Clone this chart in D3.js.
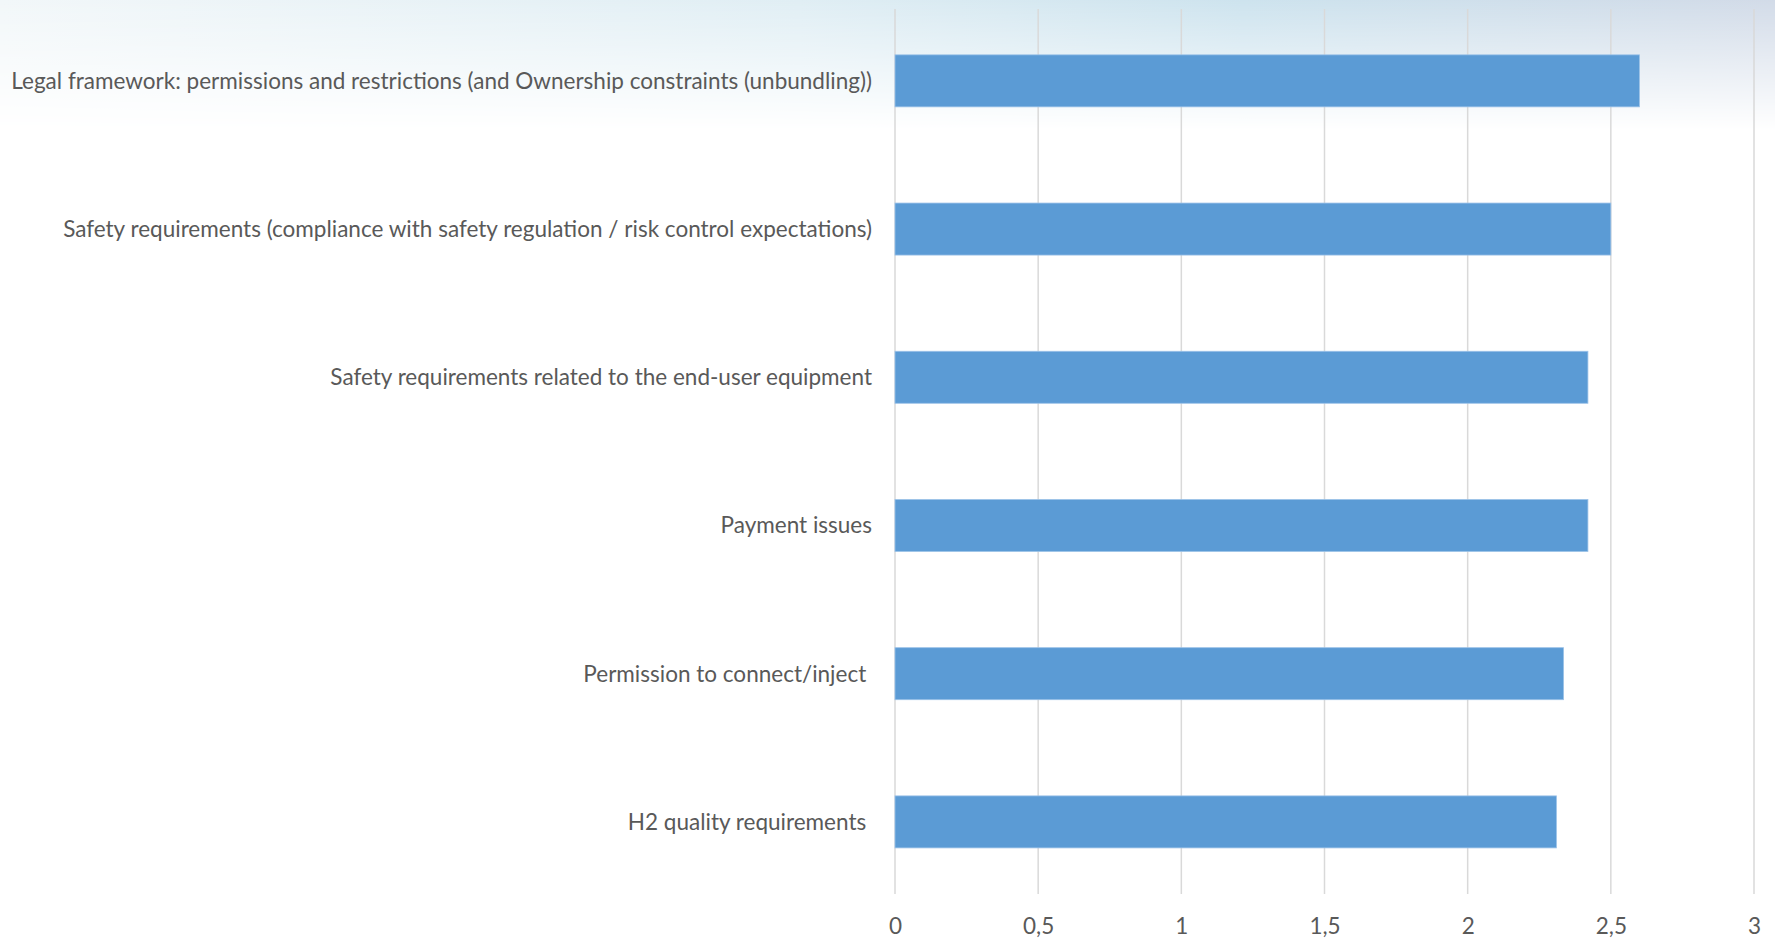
<!DOCTYPE html>
<html>
<head>
<meta charset="utf-8">
<script src="https://cdn.jsdelivr.net/npm/d3@7"></script>
<style>
  html, body { margin: 0; padding: 0; background: #ffffff; }
  svg { display: block; }
  text { font-family: "Lato", "Open Sans", sans-serif; fill: #595959; white-space: pre; }
</style>
</head>
<body>
<svg id="chart" width="1775" height="940"></svg>
<script>
const categories = [
  "Legal framework: permissions and restrictions (and Ownership constraints (unbundling))",
  "Safety requirements (compliance with safety regulation / risk control expectations)",
  "Safety requirements related to the end-user equipment",
  "Payment issues",
  "Permission to connect/inject ",
  "H2 quality requirements "
];
const values = [2.6, 2.5, 2.42, 2.42, 2.335, 2.31];
const tickValues = [0, 0.5, 1, 1.5, 2, 2.5, 3];
const tickLabels = ["0", "0,5", "1", "1,5", "2", "2,5", "3"];

const W = 1775, H = 940;
const svg = d3.select("#chart");

// background gradient (top band)
const defs = svg.append("defs");
const hg = defs.append("linearGradient").attr("id", "hg").attr("x1", 0).attr("x2", 1).attr("y1", 0).attr("y2", 0);
hg.append("stop").attr("offset", "0%").attr("stop-color", "#f2f7f9");
hg.append("stop").attr("offset", "45%").attr("stop-color", "#e0eef4");
hg.append("stop").attr("offset", "70%").attr("stop-color", "#cde3ee");
hg.append("stop").attr("offset", "100%").attr("stop-color", "#d2dbe8");
const vg = defs.append("linearGradient").attr("id", "vg").attr("x1", 0).attr("x2", 0).attr("y1", 0).attr("y2", 1);
vg.append("stop").attr("offset", "0%").attr("stop-color", "#fff").attr("stop-opacity", 1);
vg.append("stop").attr("offset", "40%").attr("stop-color", "#fff").attr("stop-opacity", 0.6);
vg.append("stop").attr("offset", "100%").attr("stop-color", "#fff").attr("stop-opacity", 0);
const mask = defs.append("mask").attr("id", "m");
mask.append("rect").attr("x", 0).attr("y", 0).attr("width", W).attr("height", 130).attr("fill", "url(#vg)");
svg.append("rect").attr("x", 0).attr("y", 0).attr("width", W).attr("height", 130)
  .attr("fill", "url(#hg)").attr("mask", "url(#m)");

const plotTop = 9, plotBottom = 894;
const x = d3.scaleLinear().domain([0, 3]).range([895, 1754]);
const y = d3.scaleBand().domain(categories).range([6.75, 896])
  .paddingInner(0.649).paddingOuter(0.3245);

// gridlines
svg.append("g").selectAll("line").data(tickValues).join("line")
  .attr("x1", d => x(d)).attr("x2", d => x(d))
  .attr("y1", plotTop).attr("y2", plotBottom)
  .attr("stroke", "#d9d9d9").attr("stroke-width", 1.5);

// bars
svg.append("g").selectAll("rect").data(values).join("rect")
  .attr("x", x(0))
  .attr("y", (d, i) => y(categories[i]))
  .attr("width", d => x(d) - x(0))
  .attr("height", y.bandwidth())
  .attr("fill", "#5b9bd5")
  .attr("stroke", "#9cc2e8").attr("stroke-width", 0.8);

// category labels
const labels = svg.append("g").selectAll("text").data(categories).join("text")
  .attr("x", 872)
  .attr("y", d => y(d) + y.bandwidth() / 2)
  .attr("dy", "0.35em")
  .attr("text-anchor", "end")
  .style("font-size", "20px")
  .text(d => d);
// fit font size so the longest label matches the reference width
const w0 = labels.nodes()[0].getComputedTextLength();
const fs = 20 * 861 / w0;
labels.style("font-size", fs + "px");

// x axis tick labels
const axis = d3.axisBottom(x).tickValues(tickValues)
  .tickFormat((d, i) => tickLabels[i]).tickSize(0).tickPadding(0);
const ga = svg.append("g").attr("transform", `translate(0, 918)`).call(axis);
ga.select(".domain").remove();
ga.selectAll("text").attr("dy", "0.35em").attr("y", 8)
  .style("font-size", fs + "px").style("font-family", "Lato, 'Open Sans', sans-serif").attr("fill", "#595959");
</script>
</body>
</html>
